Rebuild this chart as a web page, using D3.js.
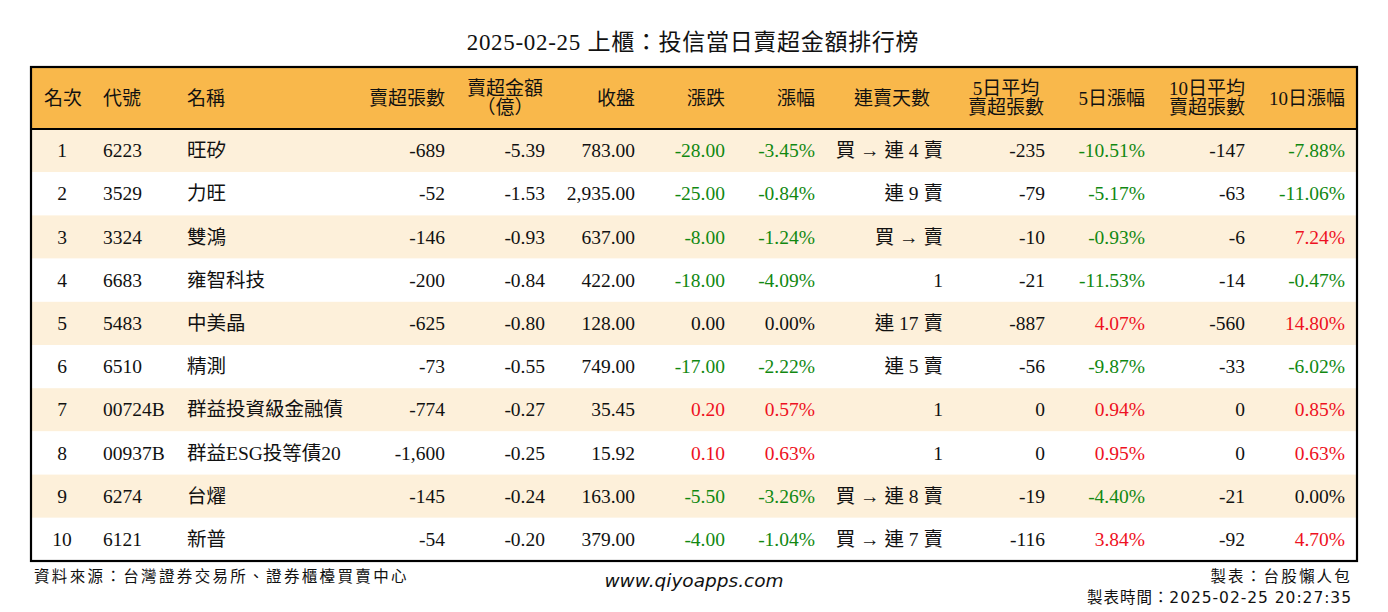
<!DOCTYPE html>
<html>
<head>
<meta charset="utf-8">
<script src="https://cdn.jsdelivr.net/npm/d3@7"></script>
<style>
  html, body { margin: 0; padding: 0; background: #ffffff; }
  svg { display: block; }
</style>
</head>
<body>
<svg id="chart" width="1388" height="612"></svg>
<script>
// ---------- data ----------
const titleText = "2025-02-25 上櫃：投信當日賣超金額排行榜";
const ranks   = [1, 2, 3, 4, 5, 6, 7, 8, 9, 10];
const codes   = ["6223", "3529", "3324", "6683", "5483", "6510", "00724B", "00937B", "6274", "6121"];
const names   = ["旺矽", "力旺", "雙鴻", "雍智科技", "中美晶", "精測", "群益投資級金融債", "群益ESG投等債20", "台燿", "新普"];
const sellVol = [-689, -52, -146, -200, -625, -73, -774, -1600, -145, -54];
const sellAmt = [-5.39, -1.53, -0.93, -0.84, -0.80, -0.55, -0.27, -0.25, -0.24, -0.20];
const closes  = [783.00, 2935.00, 637.00, 422.00, 128.00, 749.00, 35.45, 15.92, 163.00, 379.00];
const changes = [-28.00, -25.00, -8.00, -18.00, 0.00, -17.00, 0.20, 0.10, -5.50, -4.00];
const pcts    = [-3.45, -0.84, -1.24, -4.09, 0.00, -2.22, 0.57, 0.63, -3.26, -1.04];
const streaks = ["買 → 連 4 賣", "連 9 賣", "買 → 賣", "1", "連 17 賣", "連 5 賣", "1", "1", "買 → 連 8 賣", "買 → 連 7 賣"];
const avg5    = [-235, -79, -10, -21, -887, -56, 0, 0, -19, -116];
const pct5    = [-10.51, -5.17, -0.93, -11.53, 4.07, -9.87, 0.94, 0.95, -4.40, 3.84];
const avg10   = [-147, -63, -6, -14, -560, -33, 0, 0, -21, -92];
const pct10   = [-7.88, -11.06, 7.24, -0.47, 14.80, -6.02, 0.85, 0.63, 0.00, 4.70];
const headers = [["名次"], ["代號"], ["名稱"], ["賣超張數"], ["賣超金額", "（億）"], ["收盤"], ["漲跌"], ["漲幅"],
                 ["連賣天數"], ["5日平均", "賣超張數"], ["5日漲幅"], ["10日平均", "賣超張數"], ["10日漲幅"]];
const footSource = "資料來源：台灣證券交易所、證券櫃檯買賣中心";
const footSite = "www.qiyoapps.com";
const footMaker = "製表：台股懶人包";
const footTime = "製表時間：2025-02-25 20:27:35";

// ---------- layout / style ----------
const W = 1388, H = 612;
const tbl = { x: 31, y: 67, w: 1326, headH: 62, bottom: 561 };
const FONT = "'Liberation Serif', 'Noto Sans CJK TC', serif";
const GREEN = "#118811", RED = "#ee1122", BLACK = "#111111";
const HEAD_BG = "#F9B84B", ODD_BG = "#FDF0DA", EVEN_BG = "#FFFFFF";

const loc = d3.formatLocale({ decimal: ".", thousands: ",", grouping: [3], currency: ["", ""], minus: "-" });
const fInt = loc.format(",");
const f2 = loc.format(",.2f");
const fPct = v => loc.format(".2f")(v) + "%";
const signColor = v => v > 0 ? RED : (v < 0 ? GREEN : BLACK);

const rows = ranks.map((r, i) => ({
  rank: r, code: codes[i], name: names[i], vol: sellVol[i], amt: sellAmt[i], close: closes[i],
  chg: changes[i], pct: pcts[i], streak: streaks[i], avg5: avg5[i], pct5: pct5[i], avg10: avg10[i], pct10: pct10[i]
}));

// column definitions: x anchor position and text anchor
const cols = [
  { x: 62,   anchor: "middle", hx: 63,   hanchor: "middle", val: d => d.rank },
  { x: 103,  anchor: "start",  hx: 103,  hanchor: "start",  val: d => d.code },
  { x: 187,  anchor: "start",  hx: 187,  hanchor: "start",  val: d => d.name },
  { x: 445,  anchor: "end",    hx: 445,  hanchor: "end",    val: d => fInt(d.vol) },
  { x: 545,  anchor: "end",    hx: 505,  hanchor: "middle", val: d => f2(d.amt) },
  { x: 635,  anchor: "end",    hx: 635,  hanchor: "end",    val: d => f2(d.close) },
  { x: 725,  anchor: "end",    hx: 725,  hanchor: "end",    val: d => f2(d.chg), color: d => signColor(d.chg) },
  { x: 815,  anchor: "end",    hx: 815,  hanchor: "end",    val: d => fPct(d.pct), color: d => signColor(d.pct) },
  { x: 943,  anchor: "end",    hx: 930,  hanchor: "end",    val: d => d.streak },
  { x: 1045, anchor: "end",    hx: 1006, hanchor: "middle", val: d => fInt(d.avg5) },
  { x: 1145, anchor: "end",    hx: 1145, hanchor: "end",    val: d => fPct(d.pct5), color: d => signColor(d.pct5) },
  { x: 1245, anchor: "end",    hx: 1207, hanchor: "middle", val: d => fInt(d.avg10) },
  { x: 1345, anchor: "end",    hx: 1345, hanchor: "end",    val: d => fPct(d.pct10), color: d => signColor(d.pct10) }
];

const svg = d3.select("#chart");
svg.append("rect").attr("width", W).attr("height", H).attr("fill", "#fff");

// title
svg.append("text")
  .attr("x", 693).attr("y", 42)
  .attr("text-anchor", "middle").attr("dominant-baseline", "central")
  .attr("font-family", FONT).attr("font-size", 23).attr("letter-spacing", 0.7).attr("fill", BLACK)
  .text(titleText);

// row scale
const y = d3.scaleBand().domain(ranks).range([tbl.y + tbl.headH, tbl.bottom]).paddingInner(0).paddingOuter(0);

// header background
svg.append("rect")
  .attr("x", tbl.x).attr("y", tbl.y).attr("width", tbl.w).attr("height", tbl.headH)
  .attr("fill", HEAD_BG);

// row backgrounds
svg.append("g").selectAll("rect").data(rows).join("rect")
  .attr("x", tbl.x).attr("y", d => y(d.rank)).attr("width", tbl.w).attr("height", y.bandwidth())
  .attr("fill", (d, i) => i % 2 === 0 ? ODD_BG : EVEN_BG);

// header text
const hg = svg.append("g").attr("font-family", FONT).attr("font-size", 19).attr("fill", BLACK);
headers.forEach((lines, ci) => {
  const c = cols[ci];
  const cy = tbl.y + tbl.headH / 2;
  lines.forEach((ln, li) => {
    const yy = lines.length === 1 ? cy : cy + (li === 0 ? -10 : 9.5);
    hg.append("text")
      .attr("x", c.hx).attr("y", yy)
      .attr("text-anchor", c.hanchor).attr("dominant-baseline", "central")
      .text(ln);
  });
});

// cells
const cg = svg.append("g").attr("font-family", FONT).attr("font-size", 19.5);
cols.forEach(c => {
  cg.append("g").selectAll("text").data(rows).join("text")
    .attr("x", c.x)
    .attr("y", d => y(d.rank) + y.bandwidth() / 2)
    .attr("text-anchor", c.anchor).attr("dominant-baseline", "central")
    .attr("fill", d => c.color ? c.color(d) : BLACK)
    .text(c.val);
});

// header bottom line & outer border
svg.append("line")
  .attr("x1", tbl.x).attr("x2", tbl.x + tbl.w)
  .attr("y1", tbl.y + tbl.headH).attr("y2", tbl.y + tbl.headH)
  .attr("stroke", "#000").attr("stroke-width", 2.2);
svg.append("rect")
  .attr("x", tbl.x).attr("y", tbl.y).attr("width", tbl.w).attr("height", tbl.bottom - tbl.y)
  .attr("fill", "none").attr("stroke", "#000").attr("stroke-width", 2.2);

// footer
const FOOT = "'DejaVu Sans', 'Noto Sans CJK TC', sans-serif";
svg.append("text").attr("x", 34).attr("y", 577).attr("dominant-baseline", "central")
  .attr("font-family", FOOT).attr("font-size", 15.5).attr("letter-spacing", 2.35).attr("fill", BLACK)
  .text(footSource);
svg.append("text").attr("x", 694).attr("y", 580).attr("text-anchor", "middle").attr("dominant-baseline", "central")
  .attr("font-family", "'DejaVu Sans', sans-serif").attr("font-style", "italic").attr("font-size", 18.5).attr("fill", BLACK)
  .text(footSite);
svg.append("text").attr("x", 1352).attr("y", 577).attr("text-anchor", "end").attr("dominant-baseline", "central")
  .attr("font-family", FOOT).attr("font-size", 15.5).attr("letter-spacing", 2.2).attr("fill", BLACK)
  .text(footMaker);
svg.append("text").attr("x", 1352).attr("y", 598).attr("text-anchor", "end").attr("dominant-baseline", "central")
  .attr("font-family", FOOT).attr("font-size", 15.5).attr("letter-spacing", 0.95).attr("fill", BLACK)
  .text(footTime);
</script>
</body>
</html>
